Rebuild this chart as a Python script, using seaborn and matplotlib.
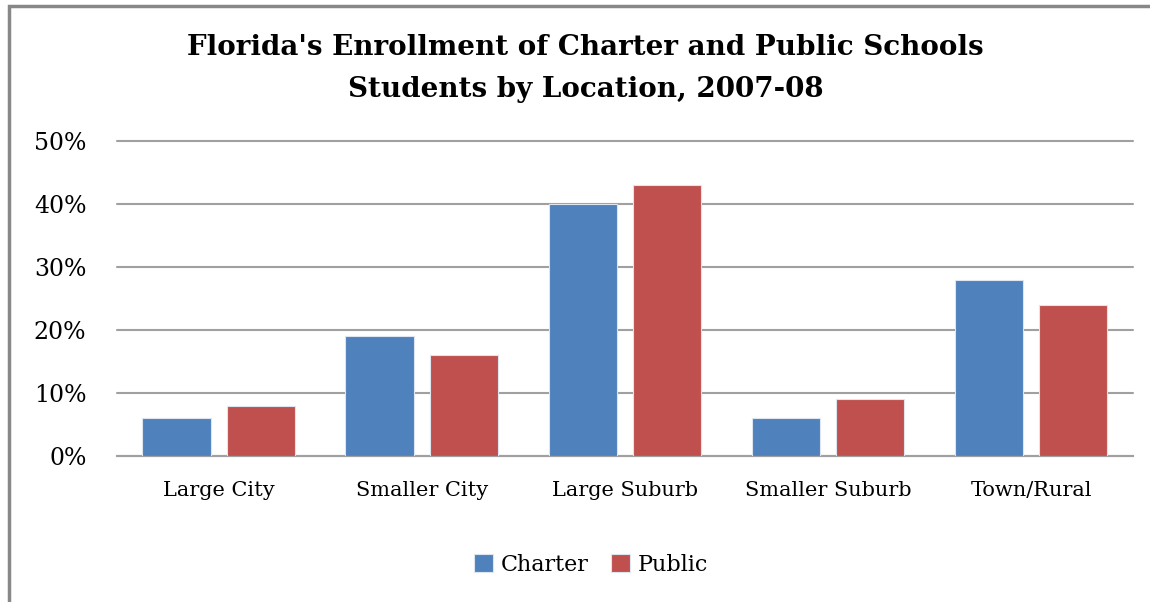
import pandas as pd
import matplotlib.pyplot as plt
import seaborn as sns
from matplotlib.patches import Rectangle
from matplotlib.ticker import PercentFormatter

sns.set_theme(style="white")
plt.rcParams['font.family'] = ['DejaVu Serif']
plt.rcParams['text.color'] = 'black'

# Данные
locations = ["Large City", "Smaller City", "Large Suburb", "Smaller Suburb", "Town/Rural"]
charter = [6, 19, 40, 6, 28]
public = [8, 16, 43, 9, 24]
yticks = [0, 10, 20, 30, 40, 50]

df = pd.DataFrame({
    "Location": locations * 2,
    "Share": charter + public,
    "Type": ["Charter"] * len(locations) + ["Public"] * len(locations),
})

fig = plt.figure(figsize=(11.5, 6.02), dpi=100)
ax = fig.add_axes([0.1017, 0.2425, 0.8833, 0.5233])

sns.barplot(data=df, x="Location", y="Share", hue="Type",
            palette={"Charter": "#4F81BD", "Public": "#C0504D"},
            width=0.83, gap=0.19, edgecolor="#DDE6F0", linewidth=0.8,
            saturation=1, ax=ax, zorder=3)

ax.set_ylim(0, 50)
ax.set_yticks(yticks)
ax.yaxis.set_major_formatter(PercentFormatter(decimals=0))
ax.grid(axis="y", color="#A0A0A0", linewidth=1.5, zorder=0)
for gl in ax.get_ygridlines():
    gl.set_clip_on(False)
ax.set_axisbelow(True)
for s in ["top", "right", "left"]:
    ax.spines[s].set_visible(False)
ax.spines["bottom"].set_color("#A0A0A0")
ax.spines["bottom"].set_linewidth(1.5)
ax.tick_params(axis="both", length=0, colors="black")
ax.tick_params(axis="y", pad=22, labelsize=17)
ax.tick_params(axis="x", pad=18, labelsize=15)
ax.set_xlabel("")
ax.set_ylabel("")

fig.text(0.509, 0.886, "Florida's Enrollment of Charter and Public Schools\nStudents by Location, 2007-08",
         ha="center", va="center", fontsize=20, fontweight="bold", linespacing=1.7,
         color="black")

handles, labels = ax.get_legend_handles_labels()
ax.legend_.remove()
fig.legend(handles, labels, loc="center", bbox_to_anchor=(0.514, 0.062), ncol=2,
           frameon=False, fontsize=16, handlelength=0.85, handleheight=0.85,
           handletextpad=0.35, columnspacing=1.0, labelcolor="black")

# рамка диаграммы
fig.patches.append(Rectangle((9 / 1150, -0.1), 1.2, 1.1 - 6 / 602, transform=fig.transFigure,
                             fill=False, edgecolor="#888888", linewidth=2.5))

plt.savefig("out.png", dpi=100)
